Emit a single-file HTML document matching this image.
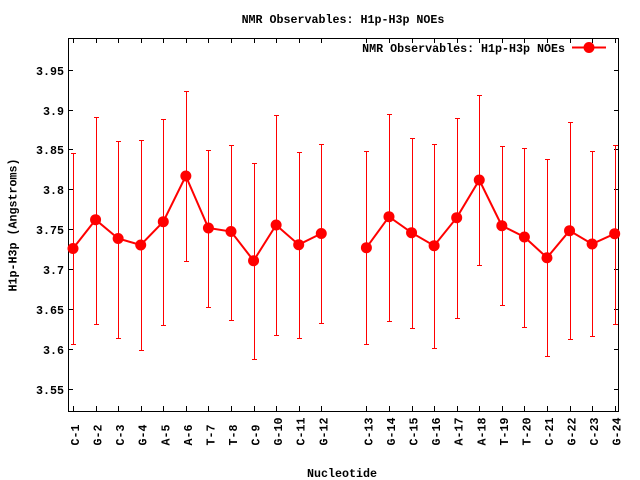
<!DOCTYPE html>
<html><head><meta charset="utf-8"><style>
html,body{margin:0;padding:0;background:#fff;}
svg{display:block;}
text{font-family:"Liberation Mono","DejaVu Sans Mono",monospace;font-weight:bold;font-size:11.67px;fill:#000;}
</style></head><body>
<svg width="640" height="480" viewBox="0 0 640 480" xmlns="http://www.w3.org/2000/svg">
<rect x="0" y="0" width="640" height="480" fill="#fff"/>
<text x="343" y="23" text-anchor="middle">NMR Observables: H1p-H3p NOEs</text>
<g id="axes" stroke="#000" stroke-width="1" fill="none">
<rect x="68.5" y="38.5" width="550" height="373"/>
</g>
<g stroke="#000" stroke-width="1">
<line x1="68" y1="389.5" x2="73" y2="389.5"/><line x1="614" y1="389.5" x2="619" y2="389.5"/>
<line x1="68" y1="349.5" x2="73" y2="349.5"/><line x1="614" y1="349.5" x2="619" y2="349.5"/>
<line x1="68" y1="309.5" x2="73" y2="309.5"/><line x1="614" y1="309.5" x2="619" y2="309.5"/>
<line x1="68" y1="269.5" x2="73" y2="269.5"/><line x1="614" y1="269.5" x2="619" y2="269.5"/>
<line x1="68" y1="229.5" x2="73" y2="229.5"/><line x1="614" y1="229.5" x2="619" y2="229.5"/>
<line x1="68" y1="189.5" x2="73" y2="189.5"/><line x1="614" y1="189.5" x2="619" y2="189.5"/>
<line x1="68" y1="149.5" x2="73" y2="149.5"/><line x1="614" y1="149.5" x2="619" y2="149.5"/>
<line x1="68" y1="110.5" x2="73" y2="110.5"/><line x1="614" y1="110.5" x2="619" y2="110.5"/>
<line x1="68" y1="70.5" x2="73" y2="70.5"/><line x1="614" y1="70.5" x2="619" y2="70.5"/>
</g>
<g text-anchor="end">
<text x="64" y="394">3.55</text>
<text x="64" y="354">3.6</text>
<text x="64" y="314">3.65</text>
<text x="64" y="274">3.7</text>
<text x="64" y="234">3.75</text>
<text x="64" y="194">3.8</text>
<text x="64" y="154">3.85</text>
<text x="64" y="115">3.9</text>
<text x="64" y="75">3.95</text>
</g>
<text transform="translate(16.5,225) rotate(-90)" text-anchor="middle">H1p-H3p (Angstroms)</text>
<text x="342" y="477" text-anchor="middle">Nucleotide</text>
<g id="xt" stroke="#000" stroke-width="1"></g>
<g id="xl"></g>
<g id="eb" stroke="#ff0000" stroke-width="1"></g>
<g id="ln" stroke="#ff0000" stroke-width="2" fill="none"></g>
<g id="mk" fill="#ff0000"></g>
<text x="565" y="52" text-anchor="end">NMR Observables: H1p-H3p NOEs</text>
<line x1="572" y1="47.5" x2="606" y2="47.5" stroke="#ff0000" stroke-width="2"/>
<circle cx="589" cy="47.5" r="5.5" fill="#ff0000"/>
<script>
var names=["C-1","G-2","C-3","G-4","A-5","A-6","T-7","T-8","C-9","G-10","C-11","G-12","C-13","G-14","C-15","G-16","A-17","A-18","T-19","T-20","C-21","G-22","C-23","G-24"];
var d=[[248.5,153.3,344.3],[219.7,117.3,324.3],[238.5,141.3,338.3],[245,140.3,350],[221.7,119,325.3],[176,91,261.3],[228,150.3,307.3],[231.5,145.3,320.3],[260.7,163.3,359],[225,115,335.3],[244.7,152.3,338.3],[233.5,144.3,323.3],[247.7,151.3,344.3],[216.7,114.3,321],[232.7,138,328.3],[245.7,144.3,348.3],[217.7,118.3,318.3],[180,95.3,265.3],[225.7,146,305.3],[237,148,327.3],[257.7,159.3,356.3],[230.7,122.3,339.3],[244,151.3,336.3],[233.7,145.3,324.3]];
var NS="http://www.w3.org/2000/svg";
function el(t,a,p){var e=document.createElementNS(NS,t);for(var k in a)e.setAttribute(k,a[k]);p.appendChild(e);return e;}
var xt=document.getElementById("xt"),xl=document.getElementById("xl"),eb=document.getElementById("eb"),ln=document.getElementById("ln"),mk=document.getElementById("mk");
var p1=[],p2=[];
for(var i=0;i<24;i++){
 var x=73+(i<12?i:i+1)*22.57; var xr=Math.round(x)+0.5;
 el("line",{x1:xr,y1:411,x2:xr,y2:406},xt);
 el("line",{x1:xr,y1:38,x2:xr,y2:43},xt);
 var t=el("text",{transform:"translate("+(x+6)+",445.5) rotate(-90)","text-anchor":"start"},xl); t.textContent=names[i];
 var v=d[i];
 el("line",{x1:xr,y1:v[1],x2:xr,y2:v[2]},eb);
 el("line",{x1:xr-2.5,y1:Math.round(v[1])+0.5,x2:xr+2.5,y2:Math.round(v[1])+0.5},eb);
 el("line",{x1:xr-2.5,y1:Math.round(v[2])+0.5,x2:xr+2.5,y2:Math.round(v[2])+0.5},eb);
 (i<12?p1:p2).push(x.toFixed(1)+","+v[0]);
 el("circle",{cx:x,cy:v[0],r:5.5},mk);
}
el("polyline",{points:p1.join(" ")},ln);
el("polyline",{points:p2.join(" ")},ln);
</script>
</svg>
</body></html>
